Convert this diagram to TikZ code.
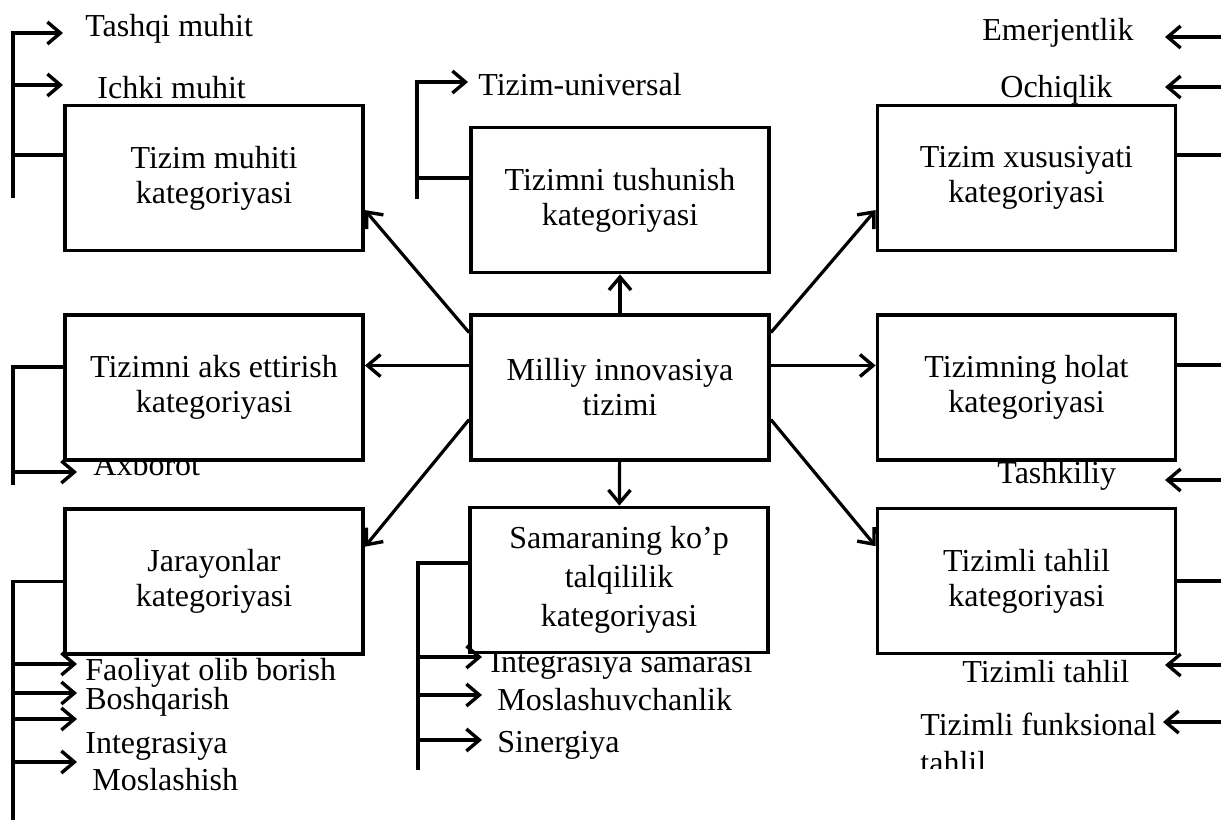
\documentclass[tikz,border=0pt]{standalone}
\usepackage{fontspec}
\setmainfont{Liberation Serif}
\usetikzlibrary{arrows.meta}

\tikzset{
  kat/.style={draw,line width=1.9pt,fill=white,minimum width=149pt,minimum height=72.5pt,align=center,inner sep=2pt},
  lab/.style={inner sep=0pt,anchor=base west},
  con/.style={line width=1.6pt},
}

\begin{document}
\begin{tikzpicture}[x=0.5pt,y=-0.5pt,>={Straight Barb[length=6.5pt,width=11pt,line width=1.7pt]},font=\fontsize{16}{17.5}\selectfont]
                \useasboundingbox (0,0) rectangle (1221,820);
                % labels of the side branches
                \node[lab] (tashqi) at (85,36) {Tashqi muhit};
                \node[lab] (ichki) at (97,98) {Ichki muhit};
                \node[lab] (univ) at (478,95) {Tizim-universal};
                \node[lab] (emer) at (982,40) {Emerjentlik};
                \node[lab] (ochiq) at (1000,97) {Ochiqlik};
                \node[lab] (axb) at (93,475) {Axborot};
                \node[lab] (tashk) at (997,483) {Tashkiliy};
                \node[lab] (faol) at (85,680) {Faoliyat olib borish};
                \node[lab] (bosh) at (85,709) {Boshqarish};
                \node[lab] (integ) at (85,753) {Integrasiya};
                \node[lab] (mosl) at (92,790) {Moslashish};
                \node[lab] (samar) at (490,672) {Integrasiya samarasi};
                \node[lab] (moslv) at (497,710) {Moslashuvchanlik};
                \node[lab] (sinerg) at (497,752) {Sinergiya};
                \node[lab] (tahlil) at (962,682) {Tizimli tahlil};
                \node[lab] (funk) at (920,735) {Tizimli funksional};
                \begin{scope}
                    \clip (900,740) rectangle (1221,768);
                    \node[lab] (funkb) at (920,773) {tahlil};
                \end{scope}
                % categories
                \node[kat] (TM) at (214,178) {Tizim muhiti\\kategoriyasi};
                \node[kat] (TT) at (620,200) {Tizimni tushunish\\kategoriyasi};
                \node[kat] (TX) at (1026.5,178) {Tizim xususiyati\\kategoriyasi};
                \node[kat] (TA) at (214,387.5) {Tizimni aks ettirish\\kategoriyasi};
                \node[kat] (MI) at (620,387.5) {Milliy innovasiya\\tizimi};
                \node[kat] (TH) at (1026.5,387.5) {Tizimning holat\\kategoriyasi};
                \node[kat] (JK) at (214,581.5) {Jarayonlar\\kategoriyasi};
                \node[kat] (SK) at (619,580) {Samaraning ko’p\\[2pt]talqililik\\[2pt]kategoriyasi};
                \node[kat] (TL) at (1026.5,581) {Tizimli tahlil\\kategoriyasi};
                % from the centre
                \draw[con,->] (MI) -- (TT);
                \draw[con,->] (MI) -- (SK);
                \draw[con,->] ([yshift=11pt]MI.west) -- ([yshift=11pt]TA.east);
                \draw[con,->] ([yshift=11pt]MI.east) -- ([yshift=11pt]TH.west);
                \draw[con,->] (MI.160) -- (TM.-12);
                \draw[con,->] (MI.20) -- (TX.192);
                \draw[con,->] (MI.192) -- (JK.13);
                \draw[con,->] (MI.-12) -- (TL.167);
                % left branches
                \draw[con,->] (13,198) |- (63,33);
                \draw[con,->] (13,85) -- ++(50,0);
                \draw[con] (13,155) -- (TM.west |- 13,155);
                \draw[con,->] (417,199) |- (468,82);
                \draw[con] (417,178) -- (TT.west |- 417,178);
                \draw[con] (13,485) |- (TA.west |- 13,367);
                \draw[con,->] (13,472) -- ++(64,0);
                \draw[con] (13,820) |- (JK.west);
                \foreach \y in {664,693,719,762}
                    \draw[con,->] (13,\y) -- ++(64,0);
                \draw[con] (418,770) |- (SK.west |- 418,563);
                \foreach \y in {657,695,740}
                    \draw[con,->] (418,\y) -- ++(64,0);
                % right branches
                \draw[con] (TX.east |- 1221,155) -- (1221,155);
                \draw[con] (TH.east |- 1221,365) -- (1221,365);
                \draw[con] (TL.east) -- (1221,581);
                \foreach \y in {37,87,480,665}
                    \draw[con,->] (1221,\y) -- ++(-56,0);
                \draw[con,->] (1221,722) -- ++(-58,0);
            \end{tikzpicture}
\end{document}
